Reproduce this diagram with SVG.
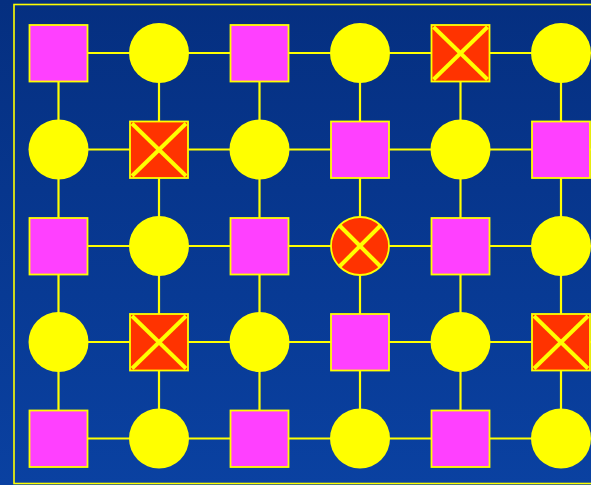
<svg xmlns="http://www.w3.org/2000/svg" width="591" height="485" viewBox="0 0 591 485">
<defs>
<linearGradient id="bg" x1="0" y1="0" x2="0" y2="1">
<stop offset="0" stop-color="#052F80"/>
<stop offset="1" stop-color="#0A41A1"/>
</linearGradient>
<style>
.ln{stroke:#FFFF00;stroke-width:2.2;fill:none}
.sq{fill:#FF40FF;stroke:#FFFF00;stroke-width:1.8}
.ci{fill:#FFFF00}
.xs{fill:#FF3300;stroke:#FFFF00;stroke-width:1.8}
.xl{stroke:#FFFF00;stroke-width:4;stroke-linecap:butt}
</style>
</defs>
<rect x="0" y="0" width="591" height="485" fill="url(#bg)"/>
<rect x="14" y="4.5" width="590" height="479" fill="none" stroke="#FFFF00" stroke-width="1.6"/>
<g id="connectors">
<line class="ln" x1="58.5" y1="53" x2="591" y2="53"/>
<line class="ln" x1="58.5" y1="149.5" x2="591" y2="149.5"/>
<line class="ln" x1="58.5" y1="246" x2="591" y2="246"/>
<line class="ln" x1="58.5" y1="342" x2="591" y2="342"/>
<line class="ln" x1="58.5" y1="438.5" x2="591" y2="438.5"/>
<line class="ln" x1="58.5" y1="53" x2="58.5" y2="438.5"/>
<line class="ln" x1="159" y1="53" x2="159" y2="438.5"/>
<line class="ln" x1="259.5" y1="53" x2="259.5" y2="438.5"/>
<line class="ln" x1="360" y1="53" x2="360" y2="438.5"/>
<line class="ln" x1="460.5" y1="53" x2="460.5" y2="438.5"/>
<line class="ln" x1="561" y1="53" x2="561" y2="438.5"/>
</g>
<!-- row 0 -->
<g id="n00"><rect class="sq" x="29.5" y="25" width="58" height="56.5"/></g>
<g id="n01"><circle class="ci" cx="159" cy="53" r="30"/></g>
<g id="n02"><rect class="sq" x="230.5" y="25" width="58" height="56.5"/></g>
<g id="n03"><circle class="ci" cx="360" cy="53" r="30"/></g>
<g id="n04"><rect class="xs" x="431.5" y="25" width="58" height="56.5"/><line class="xl" x1="433.5" y1="27" x2="487.5" y2="79.5"/><line class="xl" x1="487.5" y1="27" x2="433.5" y2="79.5"/></g>
<g id="n05"><circle class="ci" cx="561" cy="53" r="30"/></g>
<!-- row 1 -->
<g id="n10"><circle class="ci" cx="58.5" cy="149.5" r="30"/></g>
<g id="n11"><rect class="xs" x="130" y="121.5" width="58" height="56.5"/><line class="xl" x1="132" y1="123.5" x2="186" y2="176"/><line class="xl" x1="186" y1="123.5" x2="132" y2="176"/></g>
<g id="n12"><circle class="ci" cx="259.5" cy="149.5" r="30"/></g>
<g id="n13"><rect class="sq" x="331" y="121.5" width="58" height="56.5"/></g>
<g id="n14"><circle class="ci" cx="460.5" cy="149.5" r="30"/></g>
<g id="n15"><rect class="sq" x="532" y="121.5" width="58" height="56.5"/></g>
<!-- row 2 -->
<g id="n20"><rect class="sq" x="29.5" y="218" width="58" height="56.5"/></g>
<g id="n21"><circle class="ci" cx="159" cy="246" r="30"/></g>
<g id="n22"><rect class="sq" x="230.5" y="218" width="58" height="56.5"/></g>
<g id="n23"><circle class="xs" cx="360" cy="246" r="29"/><line class="xl" x1="339.5" y1="225.5" x2="380.5" y2="266.5"/><line class="xl" x1="380.5" y1="225.5" x2="339.5" y2="266.5"/></g>
<g id="n24"><rect class="sq" x="431.5" y="218" width="58" height="56.5"/></g>
<g id="n25"><circle class="ci" cx="561" cy="246" r="30"/></g>
<!-- row 3 -->
<g id="n30"><circle class="ci" cx="58.5" cy="342" r="30"/></g>
<g id="n31"><rect class="xs" x="130" y="314" width="58" height="56.5"/><line class="xl" x1="132" y1="316" x2="186" y2="368.5"/><line class="xl" x1="186" y1="316" x2="132" y2="368.5"/></g>
<g id="n32"><circle class="ci" cx="259.5" cy="342" r="30"/></g>
<g id="n33"><rect class="sq" x="331" y="314" width="58" height="56.5"/></g>
<g id="n34"><circle class="ci" cx="460.5" cy="342" r="30"/></g>
<g id="n35"><rect class="xs" x="532" y="314" width="58" height="56.5"/><line class="xl" x1="534" y1="316" x2="588" y2="368.5"/><line class="xl" x1="588" y1="316" x2="534" y2="368.5"/></g>
<!-- row 4 -->
<g id="n40"><rect class="sq" x="29.5" y="410.5" width="58" height="56.5"/></g>
<g id="n41"><circle class="ci" cx="159" cy="438.5" r="30"/></g>
<g id="n42"><rect class="sq" x="230.5" y="410.5" width="58" height="56.5"/></g>
<g id="n43"><circle class="ci" cx="360" cy="438.5" r="30"/></g>
<g id="n44"><rect class="sq" x="431.5" y="410.5" width="58" height="56.5"/></g>
<g id="n45"><circle class="ci" cx="561" cy="438.5" r="30"/></g>
</svg>
